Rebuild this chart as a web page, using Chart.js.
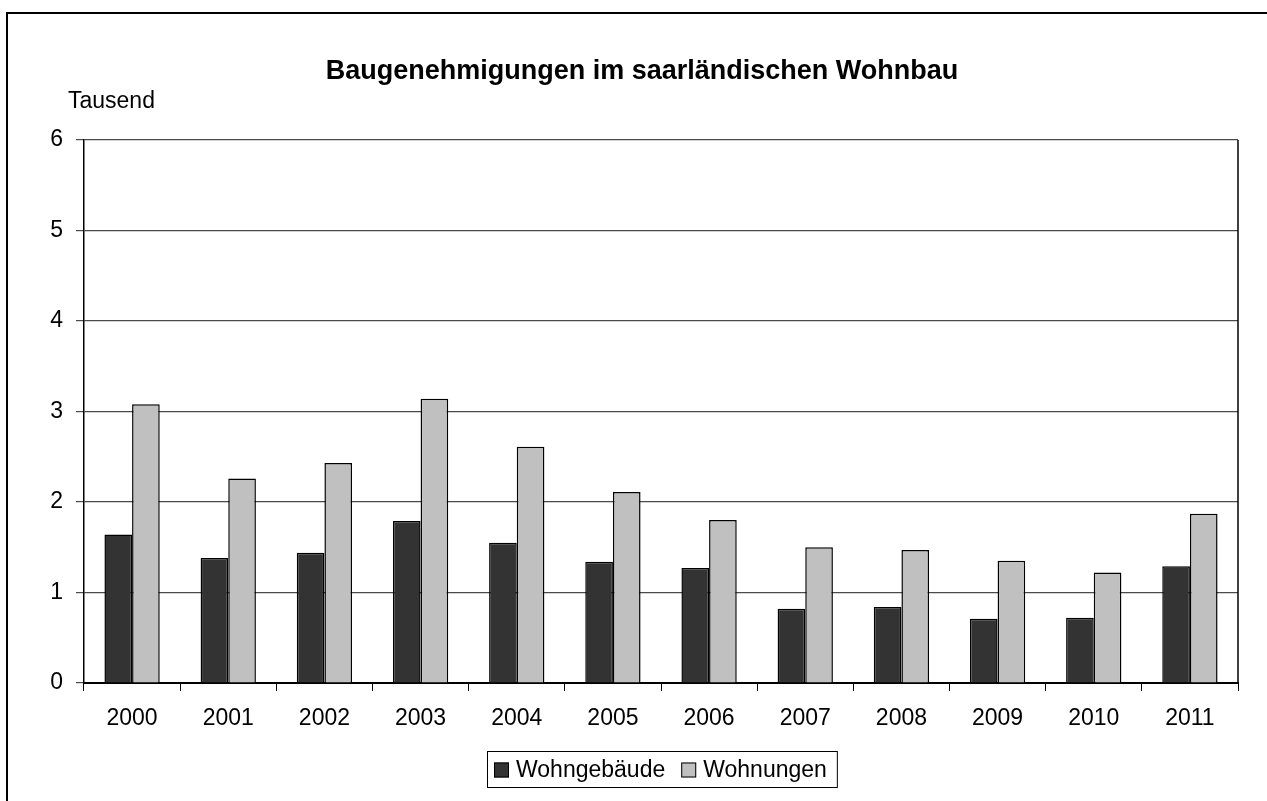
<!DOCTYPE html>
<html>
<head>
<meta charset="utf-8">
<script src="https://cdn.jsdelivr.net/npm/chart.js@4.4.1/dist/chart.umd.min.js"></script>
<style>
  html, body { margin: 0; padding: 0; background: #fff; }
  #wrap { width: 1267px; height: 801px; }
</style>
</head>
<body>
<div id="wrap"><canvas id="chart" width="1267" height="801"></canvas></div>
<script>
const years = ['2000', '2001', '2002', '2003', '2004', '2005', '2006', '2007', '2008', '2009', '2010', '2011'];
const wohngebaeude = [1.64, 1.38, 1.44, 1.79, 1.55, 1.34, 1.27, 0.82, 0.84, 0.71, 0.72, 1.29];
const wohnungen = [3.08, 2.26, 2.43, 3.14, 2.61, 2.11, 1.80, 1.50, 1.47, 1.35, 1.22, 1.87];
const yTicks = [0, 1, 2, 3, 4, 5, 6];

const titleText = 'Baugenehmigungen im saarländischen Wohnbau';
const unitText = 'Tausend';
const font = '"Liberation Sans", Arial, sans-serif';

// frame, title, unit label, right border and legend box drawn by hand
const decorations = {
  id: 'decorations',
  afterDraw(chart) {
    const ctx = chart.ctx;
    const area = chart.chartArea;
    ctx.save();

    // outer frame
    ctx.strokeStyle = '#000';
    ctx.lineWidth = 2;
    ctx.strokeRect(7, 13, 1300, 900);

    // right edge of the plot
    ctx.lineWidth = 1.5;
    ctx.beginPath();
    ctx.moveTo(area.right, area.top);
    ctx.lineTo(area.right, area.bottom);
    ctx.stroke();

    ctx.fillStyle = '#000';
    ctx.textBaseline = 'alphabetic';
    ctx.font = 'bold 27px ' + font;
    ctx.textAlign = 'center';
    ctx.fillText(titleText, 642, 79);

    ctx.font = '23px ' + font;
    ctx.textAlign = 'left';
    ctx.fillText(unitText, 68, 108);

    // legend
    const items = chart.data.datasets.map(ds => ({label: ds.label, color: ds.backgroundColor}));
    ctx.font = '23px ' + font;
    ctx.textBaseline = 'middle';
    let x = 494;
    const cy = 770;
    items.forEach((it, i) => {
      ctx.fillStyle = it.color;
      ctx.fillRect(x, cy - 7.5, 15, 15);
      ctx.strokeStyle = '#000';
      ctx.lineWidth = 1;
      ctx.strokeRect(x + 0.5, cy - 7, 14, 14);
      ctx.fillStyle = '#000';
      ctx.fillText(it.label, x + 22, cy + 1);
      x += 22 + ctx.measureText(it.label).width + 16;
    });
    ctx.strokeStyle = '#000';
    ctx.lineWidth = 1;
    ctx.strokeRect(487.5, 751.5, x - 16 + 10 - 487, 36);

    ctx.restore();
  }
};

new Chart(document.getElementById('chart'), {
  type: 'bar',
  data: {
    labels: years,
    datasets: [
      {
        label: 'Wohngebäude',
        data: wohngebaeude,
        backgroundColor: '#333333',
        borderColor: '#000',
        borderWidth: 1.5
      },
      {
        label: 'Wohnungen',
        data: wohnungen,
        backgroundColor: '#c0c0c0',
        borderColor: '#000',
        borderWidth: 1.5
      }
    ]
  },
  options: {
    responsive: false,
    animation: false,
    layout: { padding: { left: 0, top: 140, right: 29, bottom: 0 } },
    datasets: {
      bar: { categoryPercentage: 0.575, barPercentage: 1.0 }
    },
    plugins: {
      legend: { display: false },
      title: { display: false },
      tooltip: { enabled: false }
    },
    scales: {
      x: {
        afterFit: (scale) => { scale.height = 118; },
        grid: {
          offset: true,
          drawOnChartArea: false,
          tickLength: 8,
          color: '#000',
          lineWidth: 1
        },
        border: { color: '#000', width: 2 },
        ticks: {
          color: '#000',
          padding: 14,
          font: { family: font, size: 23 }
        }
      },
      y: {
        min: 0,
        max: 6,
        afterFit: (scale) => { scale.width = 84; },
        afterBuildTicks: (scale) => { scale.ticks = yTicks.map(v => ({value: v})); },
        grid: {
          color: '#4a4a4a',
          lineWidth: 1.2,
          tickLength: 8
        },
        border: { color: '#000', width: 1.5 },
        ticks: {
          color: '#000',
          padding: 13,
          font: { family: font, size: 23 }
        }
      }
    }
  },
  plugins: [decorations]
});
</script>
</body>
</html>
